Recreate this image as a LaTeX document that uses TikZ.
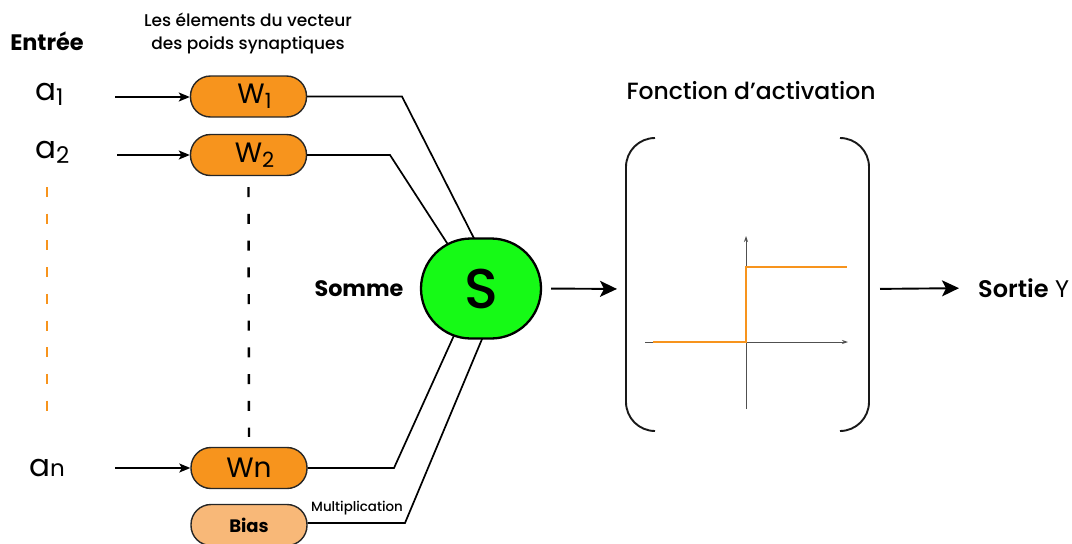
\documentclass[tikz,border=0pt]{standalone}
\usepackage{fontspec}
\setmainfont{Poppins}
\newfontfamily\popmed{Poppins Medium}
\newfontfamily\popsemi{Poppins SemiBold}
\usetikzlibrary{arrows.meta,calc}

\definecolor{wOrange}{RGB}{247,148,29}
\definecolor{biasOrange}{RGB}{248,184,120}
\definecolor{sumGreen}{RGB}{22,250,22}
\definecolor{axisGray}{RGB}{80,80,80}

\tikzset{
  weightbox/.style={draw=black!85, line width=1.4pt, fill=wOrange,
    minimum width=116pt, minimum height=41pt, rounded corners=20pt, inner sep=0pt},
  biasbox/.style={weightbox, fill=biasOrange},
  inarrow/.style={line width=1.2pt, -{Stealth[length=11pt,width=9pt,inset=2.5pt]}},
  bigarrow/.style={line width=1.9pt, -{Stealth[length=17pt,width=16pt,inset=4pt]}},
  wire/.style={line width=1.7pt, black},
  bracketline/.style={line width=1.9pt, black!90},
  axisline/.style={line width=0.8pt, axisGray, -{Stealth[length=6pt,width=4pt]}},
  stepline/.style={line width=2.6pt, wOrange},
}

\newcommand{\aLabel}[1]{\fontsize{31}{31}\selectfont a\raisebox{-5pt}{\fontsize{23}{23}\selectfont #1}}
\newcommand{\wLabel}[1]{\fontsize{28}{28}\selectfont\hspace{12pt}W\raisebox{-5pt}{\fontsize{21}{21}\selectfont #1}}

\begin{document}
\begin{tikzpicture}[x=1pt,y=-1pt]
\useasboundingbox (0,0) rectangle (1072,544);

% headings
\node[font=\bfseries\fontsize{22.4}{26}\selectfont] (entree) at (47,41) {Entrée};
\node[font=\popmed\fontsize{17}{23}\selectfont, align=center] (vecteur) at (248,33)
  {Les élements du vecteur\\des poids synaptiques};

% inputs
\node[anchor=base west, inner sep=0pt] (a1) at (35,100) {\aLabel{1}};
\node[anchor=base west, inner sep=0pt] (a2) at (35,158) {\aLabel{2}};
\node[anchor=base west, inner sep=0pt] (an) at (29,476)
  {\fontsize{31}{31}\selectfont a{\fontsize{23}{23}\selectfont n}};

% weights
\node[weightbox] (w1) at (248.5,96.5) {\wLabel{1}};
\node[weightbox] (w2) at (248.5,155) {\wLabel{2}};
\node[weightbox] (wn) at (249,468) {\fontsize{28}{28}\selectfont Wn};
\node[biasbox] (bias) at (249,525) {\bfseries\fontsize{18}{18}\selectfont Bias};

% input arrows
\coordinate (t1) at (115,97);
\coordinate (t2) at (117,155);
\coordinate (tn) at (115,468);
\draw[inarrow] (t1) -- (t1 -| w1.west);
\draw[inarrow] (t2) -- (t2 -| w2.west);
\draw[inarrow] (tn) -- (tn -| wn.west);

% dashed continuation lines
\coordinate (od1) at (47,187);
\coordinate (od2) at (47,411);
\draw[wOrange, line width=2pt, dash pattern=on 10pt off 16.7pt] (od1) -- (od2);
\draw[black, line width=2.4pt, dash pattern=on 10pt off 16.7pt,
  shorten <=11pt, shorten >=10pt] (w2.south) -- (wn.north);

% wires into the summation node (ends hidden under the node)
\coordinate (k1) at (402,96.5);
\coordinate (k2) at (390,155);
\coordinate (kn) at (394,468);
\coordinate (kb) at (405,523);
\coordinate (e1) at (485,260);
\coordinate (e2) at (458,260);
\coordinate (en) at (461,320);
\coordinate (eb) at (490,320);
\draw[wire] (w1.east) -- (k1) -- (e1);
\draw[wire] (w2.east) -- (k2) -- (e2);
\draw[wire] (wn.east) -- (kn) -- (en);
\draw[wire] (bias.east |- kb) -- (kb) -- (eb);
\node[font=\popmed\fontsize{13.4}{14}\selectfont] (mult) at (357,508) {Multiplication};

% summation
\node[draw, line width=2.3pt, fill=sumGreen, rounded corners=50pt,
  minimum width=120pt, minimum height=100pt, inner sep=0pt,
  font=\popmed\fontsize{56}{56}\selectfont] (S) at (481,288.5) {S};
\node[font=\bfseries\fontsize{22.3}{26}\selectfont] (somme) at (359,289) {Somme};

% activation function frame
\node[font=\popmed\fontsize{23.5}{28}\selectfont] (fact) at (751,91) {Fonction d’activation};
\coordinate (lb) at (626,289);
\coordinate (rb) at (869,289);
\draw[bracketline] (655,138) .. controls (639,138) and (626,151) .. (626,167)
  -- (626,402) .. controls (626,418) and (639,431) .. (655,431);
\draw[bracketline] (840,138) .. controls (856,138) and (869,151) .. (869,167)
  -- (869,402) .. controls (869,418) and (856,431) .. (840,431);

% step function
\coordinate (xa0) at (645,342);
\coordinate (xa1) at (848,342);
\coordinate (ya0) at (746,409);
\coordinate (ya1) at (746,236);
\draw[axisline] (xa0) -- (xa1);
\draw[axisline] (ya0) -- (ya1);
\draw[stepline] (653,342) -- (746,342) -- (746,267) -- (847,267);

% output
\node[anchor=west, inner sep=0pt, font=\fontsize{24}{28}\selectfont] (sortie) at (978,288)
  {{\popsemi Sortie} Y};
\draw[bigarrow, shorten <=9pt, shorten >=9pt] (S.east) -- (lb);
\draw[bigarrow, shorten <=11pt, shorten >=19pt] (rb) -- (sortie.west);
\end{tikzpicture}
\end{document}
